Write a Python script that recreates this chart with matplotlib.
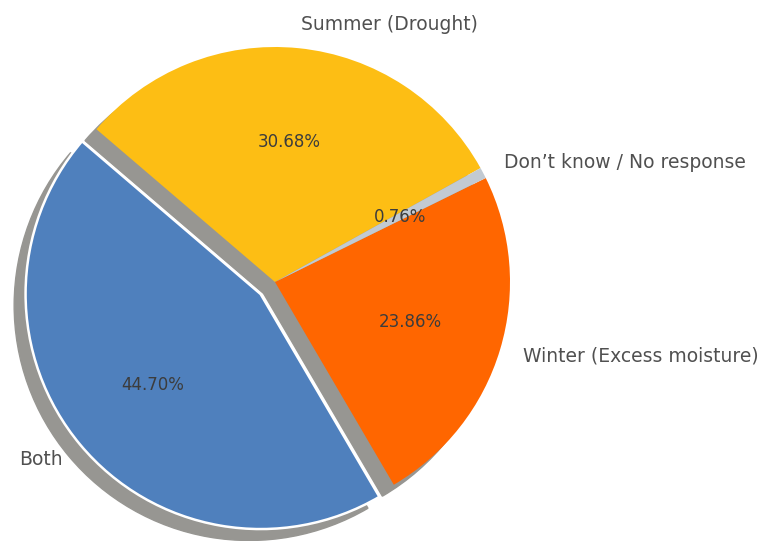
import matplotlib
matplotlib.use('Agg')
import matplotlib.pyplot as plt

# answers to "which season is the main concern"
labels = ['Summer (Drought)', 'Both', 'Winter (Excess moisture)', 'Don\u2019t know / No response']
shares = [30.68, 44.70, 23.86, 0.76]
colors = ['#fdbe14', '#4f80bd', '#ff6600', '#c2cad2']
explode = [0, 0.08, 0, 0]

fig = plt.figure(figsize=(7.66, 5.41), dpi=100)
ax = fig.add_axes([0, 0, 1, 1])

wedges, texts, autotexts = ax.pie(
    shares, labels=labels, colors=colors, explode=explode,
    autopct='%1.2f%%', startangle=29,
    shadow={'ox': -0.035, 'oy': -0.035, 'facecolor': '#979692',
            'edgecolor': '#979692', 'alpha': 1},
    textprops={'fontsize': 13.5, 'color': '#505050'},
)
for t in autotexts:
    t.set_fontsize(12)
    t.set_color('#3c3c3c')

# only the exploded slice gets a white outline
wedges[1].set_edgecolor('white')
wedges[1].set_linewidth(1.8)

# 235 px per unit radius, centre at (275, 282) from top-left
px = 235
cx, cy = 275, 282
ax.set_aspect('auto')
ax.set_xlim(-cx / px, (766 - cx) / px)
ax.set_ylim(-(541 - cy) / px, cy / px)
ax.axis('off')

fig.savefig('out.png', dpi=100)
